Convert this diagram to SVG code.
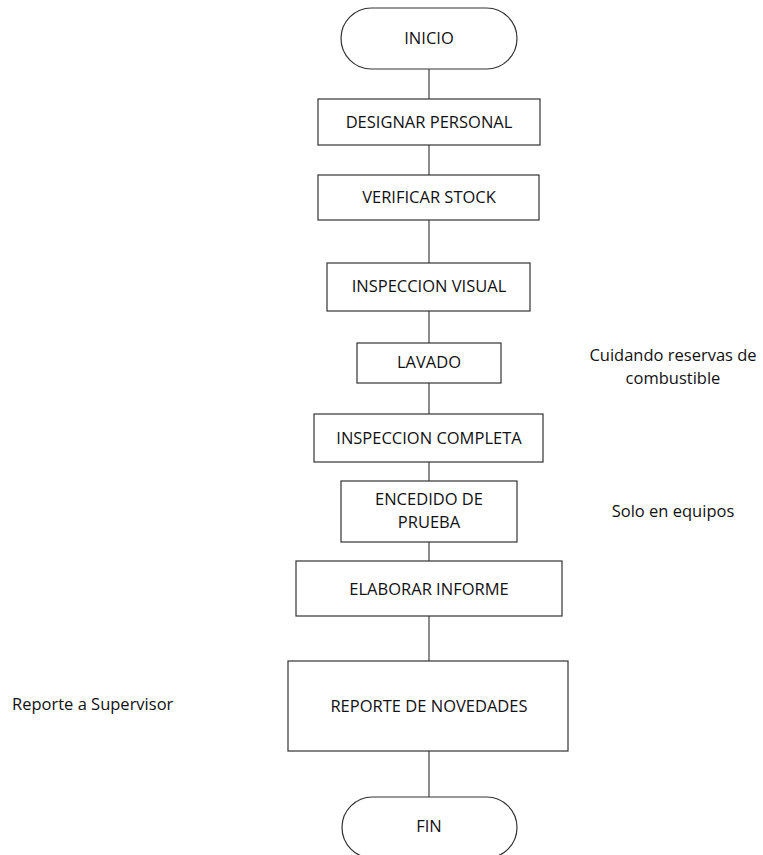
<svg xmlns="http://www.w3.org/2000/svg" width="763" height="855" viewBox="0 0 763 855">
<style>
.box{fill:#ffffff;stroke:#333333;stroke-width:1.2}
.ln{stroke:#404040;stroke-width:1.2;fill:none}
text{font-family:"Open Sans","Liberation Sans",sans-serif;font-size:16.5px;fill:#111111}
.c{text-anchor:middle}
</style>
<rect width="763" height="855" fill="#ffffff"/>
<g id="connectors">
<line class="ln" x1="429" y1="69" x2="429" y2="99"/>
<line class="ln" x1="429" y1="145" x2="429" y2="175"/>
<line class="ln" x1="429" y1="220" x2="429" y2="263"/>
<line class="ln" x1="429" y1="311" x2="429" y2="343"/>
<line class="ln" x1="429" y1="383" x2="429" y2="414"/>
<line class="ln" x1="429" y1="462" x2="429" y2="481"/>
<line class="ln" x1="429" y1="542" x2="429" y2="561"/>
<line class="ln" x1="429" y1="616" x2="429" y2="661"/>
<line class="ln" x1="429" y1="751" x2="429" y2="797"/>
</g>
<g id="inicio">
<rect class="box" x="341" y="8" width="176" height="61" rx="30.5"/>
<text class="c" x="429" y="44">INICIO</text>
</g>
<g id="designar">
<rect class="box" x="318" y="99" width="222" height="46"/>
<text class="c" x="429" y="128">DESIGNAR PERSONAL</text>
</g>
<g id="verificar">
<rect class="box" x="318" y="175" width="221" height="45"/>
<text class="c" x="429" y="203">VERIFICAR STOCK</text>
</g>
<g id="inspeccion-visual">
<rect class="box" x="327" y="263" width="203" height="48"/>
<text class="c" x="429" y="292">INSPECCION VISUAL</text>
</g>
<g id="lavado">
<rect class="box" x="357" y="343" width="144" height="40"/>
<text class="c" x="429" y="368">LAVADO</text>
</g>
<g id="inspeccion-completa">
<rect class="box" x="314" y="414" width="229" height="48"/>
<text class="c" x="429" y="444">INSPECCION COMPLETA</text>
</g>
<g id="encendido">
<rect class="box" x="341" y="481" width="176" height="61"/>
<text class="c" x="429" y="505">ENCEDIDO DE</text>
<text class="c" x="429" y="528">PRUEBA</text>
</g>
<g id="elaborar">
<rect class="box" x="296" y="561" width="266" height="55"/>
<text class="c" x="429" y="595">ELABORAR INFORME</text>
</g>
<g id="reporte">
<rect class="box" x="288" y="661" width="280" height="90"/>
<text class="c" x="429" y="712">REPORTE DE NOVEDADES</text>
</g>
<g id="fin">
<rect class="box" x="342" y="797" width="175" height="61" rx="30.5"/>
<text class="c" x="429" y="832">FIN</text>
</g>
<g id="notes">
<text class="c" x="673" y="361">Cuidando reservas de</text>
<text class="c" x="673" y="384">combustible</text>
<text class="c" x="673" y="517">Solo en equipos</text>
<text x="12" y="710">Reporte a Supervisor</text>
</g>
</svg>
